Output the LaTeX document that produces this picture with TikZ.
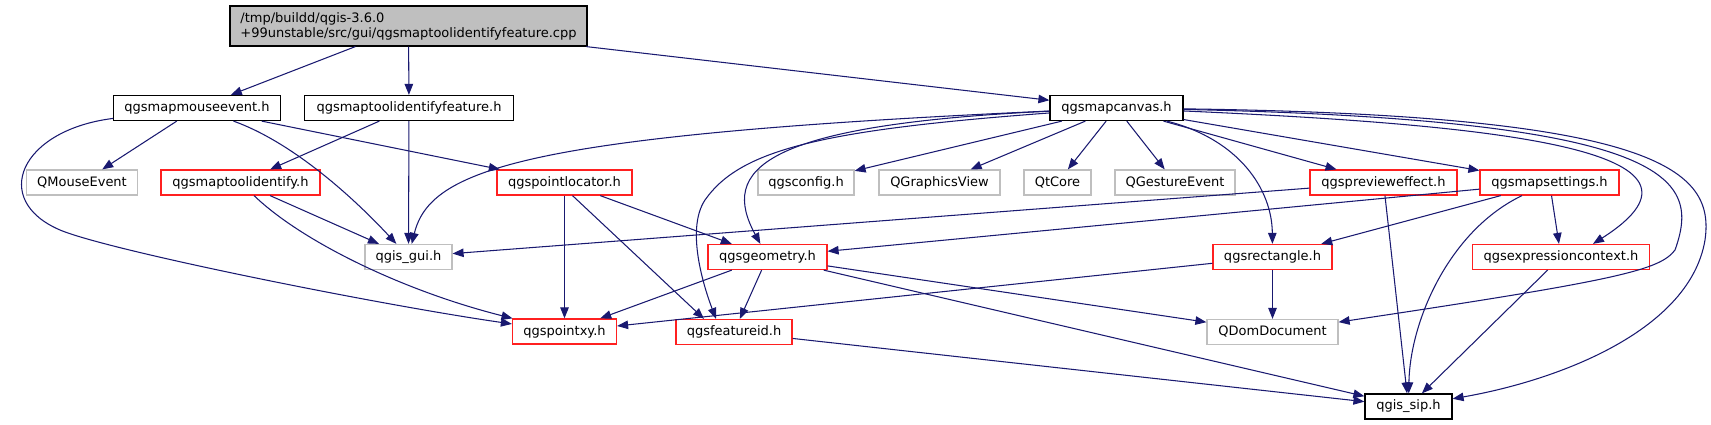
\documentclass[tikz,border=0pt]{standalone}
\usepackage{fontspec}
\setmainfont{DejaVu Sans}
\usepackage{tikz}
\usetikzlibrary{arrows.meta, positioning, calc}
\definecolor{edgeblue}{HTML}{191970}
\definecolor{truncred}{HTML}{FF2020}
\definecolor{extgray}{HTML}{BFBFBF}

\begin{document}
\begin{tikzpicture}[
    x=0.02cm, y=-0.02cm,
    font=\fontsize{7.4}{8.6}\selectfont,
    box/.style={rectangle, draw, fill=white, line width=0.7pt, minimum height=0.5cm, inner sep=0pt},
    file/.style={box, draw=black},
    trunc/.style={box, draw=truncred},
    ext/.style={box, draw=extgray},
    dep/.style={-{Triangle[length=0.22cm, width=0.17cm]}, draw=edgeblue, line width=0.6pt}
]
\useasboundingbox (0,0) rectangle (1711,425);

\node[box, draw=black, fill=extgray, minimum width=7.14cm, minimum height=0.8cm, align=left] (root) at (408.5,26) {/tmp/buildd/qgis-3.6.0\\+99unstable/src/gui/qgsmaptoolidentifyfeature.cpp};
\node[file, minimum width=3.33cm] (mme) at (197,108) {qgsmapmouseevent.h};
\node[file, minimum width=4.17cm] (mtif) at (409,108) {qgsmaptoolidentifyfeature.h};
\node[file, minimum width=2.66cm] (mcv) at (1116.5,108) {qgsmapcanvas.h};
\node[ext, minimum width=2.21cm] (qme) at (82,182.5) {QMouseEvent};
\node[trunc, minimum width=3.18cm] (mti) at (240.5,182.5) {qgsmaptoolidentify.h};
\node[trunc, minimum width=2.70cm] (ploc) at (564.5,182.5) {qgspointlocator.h};
\node[ext, minimum width=1.92cm] (cfg) at (806,182.5) {qgsconfig.h};
\node[ext, minimum width=2.42cm] (gview) at (939.5,182.5) {QGraphicsView};
\node[ext, minimum width=1.34cm] (qtc) at (1057.5,182.5) {QtCore};
\node[ext, minimum width=2.40cm] (gest) at (1175,182.5) {QGestureEvent};
\node[trunc, minimum width=2.94cm] (prev) at (1383.5,182.5) {qgsprevieweffect.h};
\node[trunc, minimum width=2.78cm] (mset) at (1549.5,182.5) {qgsmapsettings.h};
\node[ext, minimum width=1.74cm] (gui) at (408.5,257) {qgis\_gui.h};
\node[trunc, minimum width=2.38cm] (geom) at (767.5,257) {qgsgeometry.h};
\node[trunc, minimum width=2.38cm] (rect) at (1272.5,257) {qgsrectangle.h};
\node[trunc, minimum width=3.55cm] (expr) at (1561,257) {qgsexpressioncontext.h};
\node[trunc, minimum width=2.08cm] (pxy) at (564.5,331.5) {qgspointxy.h};
\node[trunc, minimum width=2.32cm] (fid) at (734,332) {qgsfeatureid.h};
\node[ext, minimum width=2.62cm] (dom) at (1272.5,332) {QDomDocument};
\node[file, minimum width=1.74cm] (sip) at (1408.5,406.5) {qgis\_sip.h};

\draw[dep] (root) -- (mme);
\draw[dep] (root) -- (mtif);
\draw[dep] (root) -- (mcv);
\draw[dep] (mme) -- (qme);
\draw[dep] (mme) .. controls (300,145) and (365,210) .. (gui);
\draw[dep] (mme) -- (ploc);
\draw[dep] (mme) .. controls (20,130) and (-10,200) .. (60,230) .. controls (110,251) and (380,305) .. (pxy);
\draw[dep] (mtif) -- (mti);
\draw[dep] (mtif) -- (gui);
\draw[dep] (mti) -- (gui);
\draw[dep] (mti) .. controls (300,240) and (400,290) .. (pxy);
\draw[dep] (ploc) -- (pxy);
\draw[dep] (ploc) -- (geom);
\draw[dep] ($(ploc.south)+(8,0)$) -- ($(fid.north)+(-30,0)$);
\draw[dep] (mcv) .. controls (520,135) and (430,170) .. (gui);
\draw[dep] (mcv) -- (cfg);
\draw[dep] (mcv) -- (gview);
\draw[dep] (mcv) -- (qtc);
\draw[dep] (mcv) -- (gest);
\draw[dep] (mcv) -- (prev);
\draw[dep] (mcv) -- (mset);
\draw[dep] (mcv) .. controls (760,125) and (720,170) .. (geom);
\draw[dep] (mcv) .. controls (820,130) and (740,150) .. (705,200) .. controls (685,230) and (705,290) .. ($(fid.north)+(-18,0)$);
\draw[dep] (mcv) .. controls (1240,140) and (1272,190) .. (rect);
\draw[dep] (mcv) .. controls (1500,125) and (1740,150) .. ($(expr.north)+(32,0)$);
\draw[dep] (mcv) .. controls (1680,120) and (1700,180) .. (1675,250) .. controls (1660,270) and (1620,280) .. (dom);
\draw[dep] (mcv) .. controls (1660,115) and (1715,170) .. (1705,240) .. controls (1690,330) and (1560,380) .. (sip);
\draw[dep] (prev) -- (gui);
\draw[dep] (prev) -- (sip);
\draw[dep] (mset) -- (geom);
\draw[dep] (mset) -- (rect);
\draw[dep] (mset) -- (expr);
\draw[dep] (mset) .. controls (1450,230) and (1410,320) .. (sip);
\draw[dep] (geom) -- (pxy);
\draw[dep] (geom) -- (fid);
\draw[dep] (geom) -- (dom);
\draw[dep] (geom) -- (sip);
\draw[dep] (rect) -- (pxy);
\draw[dep] (rect) -- (dom);
\draw[dep] (expr) -- (sip);
\draw[dep] (fid) -- (sip);
\end{tikzpicture}
\end{document}
